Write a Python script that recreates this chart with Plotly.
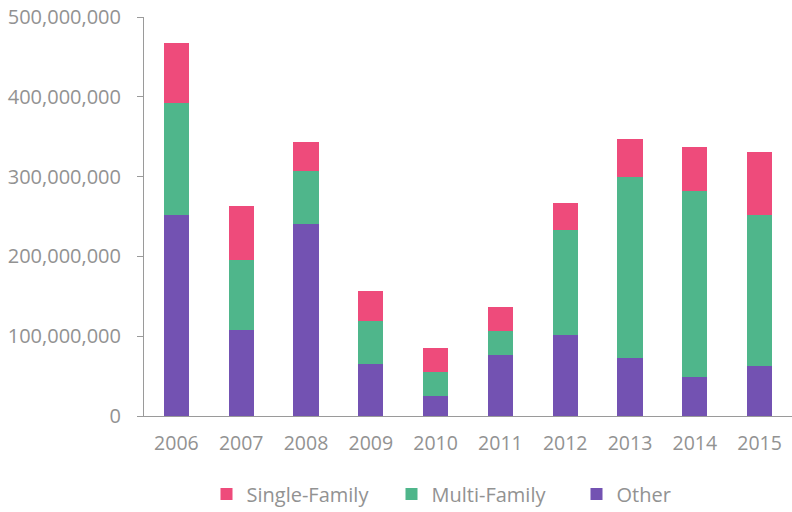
import plotly.graph_objects as go

years = ["2006", "2007", "2008", "2009", "2010", "2011", "2012", "2013", "2014", "2015"]
other = [252e6, 108e6, 240e6, 65e6, 25e6, 76e6, 102e6, 73e6, 49e6, 63e6]
multi_family = [140e6, 87e6, 67e6, 54e6, 30e6, 31e6, 131e6, 226e6, 233e6, 189e6]
single_family = [75e6, 68e6, 36e6, 38e6, 30e6, 29e6, 34e6, 48e6, 55e6, 79e6]

y_ticks = [0, 100e6, 200e6, 300e6, 400e6, 500e6]
y_tick_labels = ["0", "100,000,000", "200,000,000", "300,000,000", "400,000,000", "500,000,000"]

font_family = "Open Sans, Lato, sans-serif"
grey = "#929292"

fig = go.Figure()
fig.add_trace(go.Bar(x=years, y=other, name="Other", marker=dict(color="#7352B2", line=dict(width=0))))
fig.add_trace(go.Bar(x=years, y=multi_family, name="Multi-Family", marker=dict(color="#4FB68B", line=dict(width=0))))
fig.add_trace(go.Bar(x=years, y=single_family, name="Single-Family", marker=dict(color="#EE4B7B", line=dict(width=0))))

W, H = 792, 512

fig.update_layout(
    barmode="stack",
    bargap=0.61,
    width=W,
    height=H,
    margin=dict(l=144, r=0, t=17, b=96),
    paper_bgcolor="white",
    plot_bgcolor="white",
    font=dict(family=font_family, size=19, color=grey),
    showlegend=True,
    legend=dict(
        orientation="h",
        x=0.5 + 88 / W,
        xref="container",
        xanchor="center",
        y=18 / H,
        yref="container",
        yanchor="middle",
        traceorder="reversed",
        entrywidth=140,
        itemwidth=30,
        font=dict(size=20, color=grey),
    ),
    xaxis=dict(
        automargin=False,
        showgrid=False,
        showline=True,
        linecolor="#9a9a9a",
        linewidth=1,
        ticks="",
        ticklabelstandoff=10,
        tickfont=dict(size=19.5, color=grey),
    ),
    yaxis=dict(
        automargin=False,
        range=[0, 500e6],
        tickvals=y_ticks,
        ticktext=y_tick_labels,
        showgrid=False,
        zeroline=False,
        showline=True,
        linecolor="#9a9a9a",
        linewidth=1,
        ticks="outside",
        ticklen=6,
        tickcolor="#9a9a9a",
        ticklabelstandoff=12,
        tickfont=dict(size=20, color=grey),
    ),
)

# Remove the browser's default page margin so the figure fills the window exactly.
fig.write_html(
    "out.html",
    config={"displayModeBar": False},
    post_script="document.body.style.margin='0';document.body.style.overflow='hidden';",
)
